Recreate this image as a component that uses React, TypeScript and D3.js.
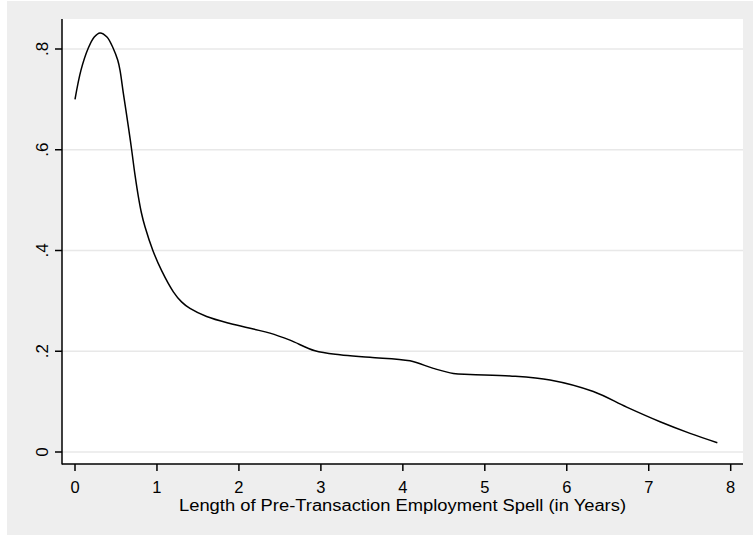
import React from "react";
import * as d3 from "d3";

const years = [0, 0.073, 0.16, 0.235, 0.305, 0.39, 0.467, 0.521, 0.549, 0.59, 0.651, 0.691, 0.732, 0.773, 0.81, 0.854, 0.95, 1.057, 1.2, 1.3, 1.403, 1.606, 1.891, 2.176, 2.379, 2.623, 2.928, 3.233, 3.599, 4.087, 4.372, 4.616, 4.82, 5.307, 5.796, 6.324, 6.731, 7.138, 7.504, 7.837];
const density = [0.70, 0.758, 0.801, 0.824, 0.832, 0.824, 0.801, 0.778, 0.758, 0.712, 0.646, 0.60, 0.55, 0.507, 0.475, 0.447, 0.40, 0.36, 0.318, 0.298, 0.285, 0.269, 0.255, 0.244, 0.236, 0.222, 0.201, 0.193, 0.188, 0.181, 0.166, 0.156, 0.154, 0.151, 0.143, 0.120, 0.089, 0.060, 0.037, 0.0185];
const xTicks = [0, 1, 2, 3, 4, 5, 6, 7, 8];
const yTicks = [0, 0.2, 0.4, 0.6, 0.8];
const yTickLabels = ["0", ".2", ".4", ".6", ".8"];
const xTitle = "Length of Pre-Transaction Employment Spell (in Years)";

export default function App() {
  const W = 753, H = 535;
  const plot = { left: 62, right: 743, top: 19, bottom: 464 };
  const x = d3.scaleLinear().domain([0, 8]).range([75, 730.7]);
  const y = d3.scaleLinear().domain([0, 0.8]).range([452, 49]);
  const pts = years.map((v, i) => [v, density[i]] as [number, number]);
  const line = d3.line<[number, number]>().x(d => x(d[0])).y(d => y(d[1])).curve(d3.curveCatmullRom.alpha(0.5));
  const font = "'Liberation Sans', Arial, sans-serif";
  return (
    <svg width={W} height={H} style={{ position: "absolute", left: 0, top: 0, display: "block" }} fontFamily={font}>
      <rect x={0} y={0} width={W} height={H} fill="#ffffff" />
      <rect x={7} y={1} width={W - 7} height={H - 1} fill="#eeeeee" />
      <rect x={plot.left} y={plot.top} width={plot.right - plot.left} height={plot.bottom - plot.top} fill="#ffffff" />
      {yTicks.map((t, i) => (
        <line key={"g" + i} x1={plot.left} x2={plot.right} y1={y(t)} y2={y(t)} stroke="#e8e8e8" strokeWidth={1.5} />
      ))}
      <path d={line(pts) || ""} fill="none" stroke="#000" strokeWidth={1.5} strokeLinejoin="round" />
      <line x1={plot.left} x2={plot.left} y1={plot.top} y2={plot.bottom + 0.5} stroke="#000" strokeWidth={1.5} />
      <line x1={plot.left} x2={plot.right} y1={plot.bottom} y2={plot.bottom} stroke="#000" strokeWidth={1.5} />
      {yTicks.map((t, i) => (
        <g key={"y" + i}>
          <line x1={plot.left - 7} x2={plot.left} y1={y(t)} y2={y(t)} stroke="#000" strokeWidth={1.5} />
          <text transform={`translate(47.5,${y(t)}) rotate(-90)`} textAnchor="middle" fontSize={17} fill="#000">{yTickLabels[i]}</text>
        </g>
      ))}
      {xTicks.map((t, i) => (
        <g key={"x" + i}>
          <line x1={x(t)} x2={x(t)} y1={plot.bottom} y2={plot.bottom + 7} stroke="#000" strokeWidth={1.5} />
          <text x={x(t)} y={492.5} textAnchor="middle" fontSize={16.5} fill="#000">{String(t)}</text>
        </g>
      ))}
      <text x={(plot.left + plot.right) / 2} y={511} textAnchor="middle" fontSize={16} textLength={447} lengthAdjust="spacingAndGlyphs" fill="#000">{xTitle}</text>
    </svg>
  );
}
